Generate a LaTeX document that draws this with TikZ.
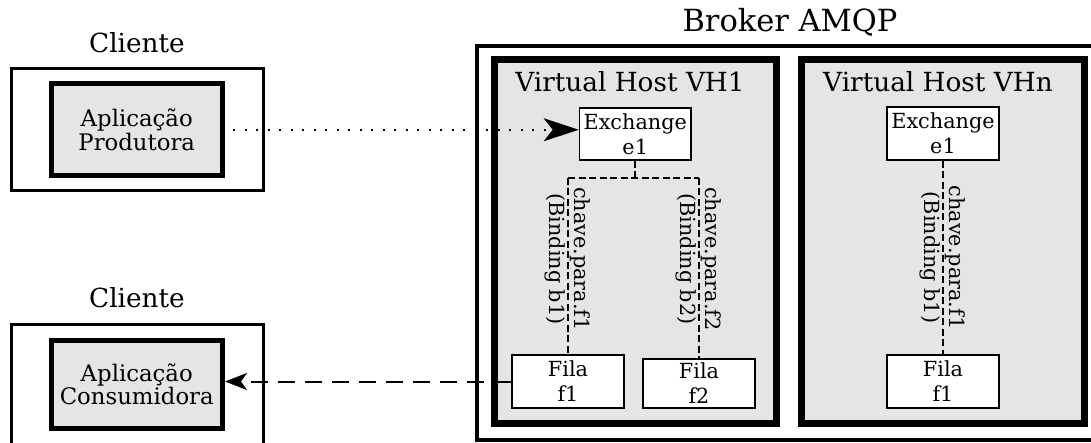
\documentclass[tikz,border=0pt]{standalone}
\usepackage{fontspec}
\setmainfont{DejaVu Serif}
\usetikzlibrary{arrows.meta}
\definecolor{boxgray}{RGB}{229,229,229}
\begin{document}
\begin{tikzpicture}[x=1pt,y=-1pt,
  biglabel/.style={font=\fontsize{26.3}{30}\selectfont, inner sep=0pt},
  brokerlabel/.style={font=\fontsize{30.5}{34}\selectfont, inner sep=0pt},
  clientbox/.style={draw=black, line width=3pt, fill=white},
  appbox/.style={draw=black, line width=5pt, fill=boxgray, align=center,
    font=\fontsize{22.8}{23.5}\selectfont, inner sep=0pt},
  brokerbox/.style={draw=black, line width=3.2pt, fill=white},
  vhbox/.style={draw=black, line width=7pt, fill=boxgray},
  smallbox/.style={draw=black, line width=1.6pt, fill=white, align=center,
    font=\fontsize{20.8}{25}\selectfont, inner sep=0pt},
  bindline/.style={draw=black, line width=2pt, dash pattern=on 7pt off 3.5pt},
  bindlabel/.style={rotate=-90, align=center, inner sep=0pt,
    font=\fontsize{20.8}{25}\selectfont},
  dotline/.style={draw=black, line width=2.2pt, dash pattern=on 2pt off 9.5pt, dash phase=3.5pt},
  dashline/.style={draw=black, line width=2pt, dash pattern=on 17pt off 10pt}
]
\useasboundingbox (0,0) rectangle (1091,443);
\clip (0,0) rectangle (1091,443);

% Producer client
\node[biglabel] (cli1lbl) at (137,43) {Cliente};
\node[clientbox, minimum width=252.5pt, minimum height=122pt] (cli1) at (137.25,130) {};
\node[appbox, minimum width=171.5pt, minimum height=91.5pt] (prod) at (136.75,129.75) {Aplicação\\Produtora};

% Consumer client
\node[biglabel] (cli2lbl) at (137,298) {Cliente};
\node[clientbox, minimum width=252.5pt, minimum height=146pt] (cli2) at (137.25,397) {};
\node[appbox, minimum width=171.5pt, minimum height=87.5pt] (cons) at (136.75,384.25) {Aplicação\\Consumidora};

% Broker
\node[brokerlabel] (brokerlbl) at (790,22) {Broker AMQP};
\node[brokerbox, minimum width=623pt, minimum height=394pt] (broker) at (788.5,243) {};

% Virtual hosts
\node[vhbox, minimum width=282.5pt, minimum height=363.5pt] (vh1) at (635.25,241.25) {};
\node[vhbox, minimum width=283pt, minimum height=363.5pt] (vhn) at (943,241.25) {};
\node[biglabel] (vh1lbl) at (630,82) {Virtual Host VH1};
\node[biglabel] (vhnlbl) at (938,82) {Virtual Host VHn};

% Exchanges
\node[smallbox, minimum width=111.5pt, minimum height=52pt] (exch1) at (635.25,134) {Exchange\\e1};
\node[smallbox, minimum width=112pt, minimum height=53pt] (exchn) at (943,133.5) {Exchange\\e1};

% Queues
\node[smallbox, minimum width=112pt, minimum height=53pt] (f1) at (568,381.5) {Fila\\f1};
\node[smallbox, minimum width=112pt, minimum height=49pt] (f2) at (699,383.5) {Fila\\f2};
\node[smallbox, minimum width=112pt, minimum height=53pt] (fn1) at (943,381.5) {Fila\\f1};

% Bindings VH1
\path (exch1.south) ++(0,17) coordinate (split1);
\draw[bindline] (exch1.south) -- (split1);
\draw[bindline] (split1 -| f1.north) -- (split1 -| f2.north);
\draw[bindline] (split1 -| f1.north) -- node[bindlabel, pos=0.46] (b1lbl) {chave.para.f1\\(Binding b1)} (f1.north);
\draw[bindline] (split1 -| f2.north) -- node[bindlabel, pos=0.45] (b2lbl) {chave.para.f2\\(Binding b2)} (f2.north);

% Binding VHn
\draw[bindline] (exchn.south) -- node[bindlabel, pos=0.5] (bnlbl) {chave.para.f1\\(Binding b1)} (fn1.north);

% Message flows
\draw[dotline, -{Stealth[length=35pt, width=23pt, inset=9pt]}] (prod.east) -- (prod.east -| exch1.west);
\draw[dashline, -{Stealth[length=22pt, width=17pt, inset=6pt]}] (f1.west) -- (f1.west -| cons.east);
\end{tikzpicture}
\end{document}
